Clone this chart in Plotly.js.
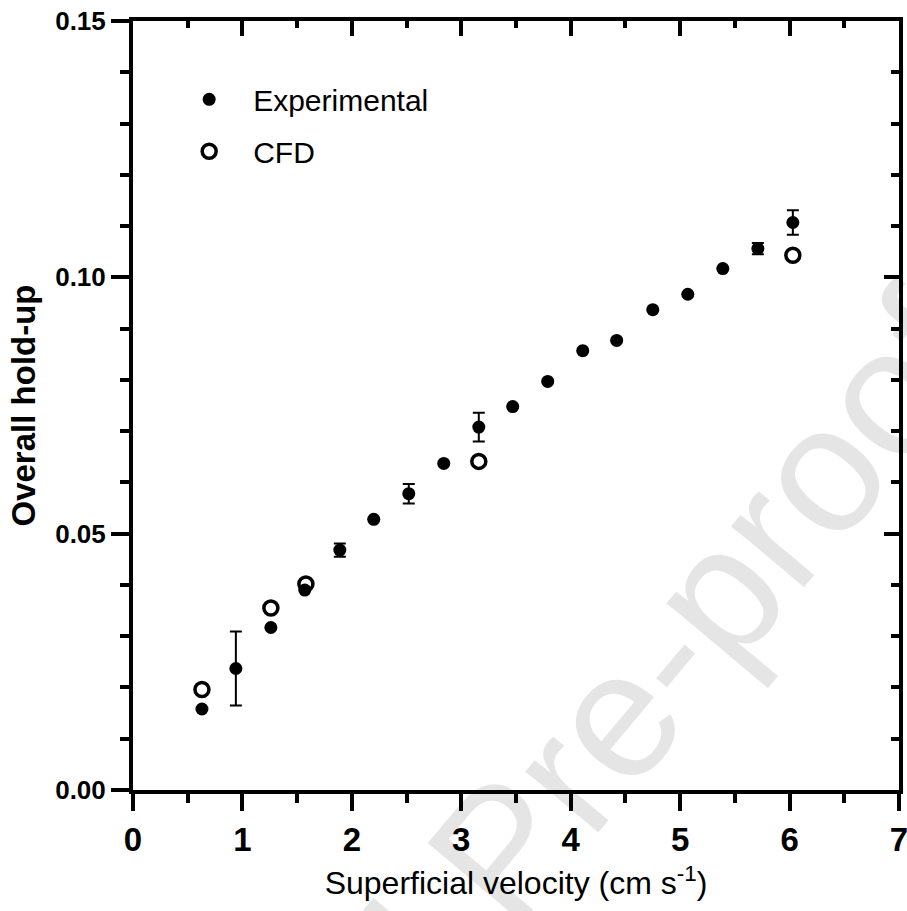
<!DOCTYPE html>
<html>
<head>
<meta charset="utf-8">
<script src="https://cdn.plot.ly/plotly-3.0.1.min.js"></script>
<style>
  html, body { margin: 0; padding: 0; background: #ffffff; }
  #chart { width: 907px; height: 911px; }
</style>
</head>
<body>
<div id="chart"></div>
<script>
// Superficial gas velocity (cm/s) for the measured runs
const velocityExp = [0.63, 0.94, 1.26, 1.57, 1.89, 2.20, 2.52, 2.84, 3.16, 3.47, 3.79, 4.11, 4.42, 4.75, 5.07, 5.39, 5.71, 6.03];
// Measured overall gas hold-up
const holdupExp = [0.0158, 0.0237, 0.0317, 0.0390, 0.0468, 0.0528, 0.0578, 0.0637, 0.0708, 0.0748, 0.0797, 0.0857, 0.0877, 0.0937, 0.0967, 0.1017, 0.1056, 0.1107];
// Standard deviation of the measured hold-up (null = no bar shown)
const holdupErr = [null, 0.0072, null, null, 0.0013, null, 0.0019, null, 0.0028, null, null, null, null, null, null, null, 0.0011, 0.0024];

// Simulated (CFD) runs
const velocityCfd = [0.63, 1.26, 1.58, 3.16, 6.03];
const holdupCfd = [0.0196, 0.0355, 0.0402, 0.0641, 0.1043];

// Axis ticks
const xTicks = [0, 1, 2, 3, 4, 5, 6, 7];
const yTicks = [0.00, 0.05, 0.10, 0.15];
const yTickText = ['0.00', '0.05', '0.10', '0.15'];

const FONT = 'Arial, "Liberation Sans", Helvetica, sans-serif';
const NARROW = '"Liberation Sans Narrow", "Arial Narrow", Arial, "Liberation Sans", sans-serif';

const traces = [
  {
    name: 'Experimental',
    type: 'scatter',
    mode: 'markers',
    x: velocityExp,
    y: holdupExp,
    xaxis: 'x',
    yaxis: 'y',
    legendgroup: 'exp',
    marker: { symbol: 'circle', size: 13, color: '#000000' },
    error_y: {
      type: 'data',
      array: holdupErr,
      visible: true,
      color: '#000000',
      thickness: 2,
      width: 6
    },
    cliponaxis: false
  },
  {
    name: 'CFD',
    type: 'scatter',
    mode: 'markers',
    x: velocityCfd,
    y: holdupCfd,
    xaxis: 'x2',
    yaxis: 'y2',
    legendgroup: 'cfd',
    marker: {
      symbol: 'circle-open',
      size: 14,
      color: '#000000',
      line: { width: 3.5, color: '#000000' }
    },
    cliponaxis: false
  }
];

const axisCommon = {
  showgrid: false,
  zeroline: false,
  showline: true,
  linecolor: '#000000',
  linewidth: 4,
  tickcolor: '#000000',
  tickwidth: 4
};

const layout = {
  width: 907,
  height: 911,
  margin: { l: 133, r: 8, t: 21, b: 121 },
  paper_bgcolor: '#ffffff',
  plot_bgcolor: 'rgba(0,0,0,0)',
  font: { family: FONT, color: '#000000' },
  showlegend: true,
  legend: {
    x: 0.042,
    y: 0.932,
    xanchor: 'left',
    yanchor: 'top',
    bgcolor: 'rgba(0,0,0,0)',
    borderwidth: 0,
    font: { family: FONT, size: 30, color: '#000000' },
    itemwidth: 78,
    tracegroupgap: 10,
    itemsizing: 'trace'
  },
  xaxis: Object.assign({}, axisCommon, {
    range: [0, 7],
    tickmode: 'array',
    tickvals: xTicks,
    ticktext: xTicks.map(String),
    ticks: 'outside',
    ticklen: 17,
    ticklabeloverflow: 'allow',
    tickfont: { family: NARROW, size: 33, weight: 'bold' },
    minor: { dtick: 0.5, tick0: 0, ticks: 'outside', ticklen: 9, tickwidth: 4, tickcolor: '#000000', showgrid: false },
    title: {
      text: 'Superficial velocity (cm s<sup>-1</sup>)',
      font: { family: FONT, size: 32 },
      standoff: 16
    }
  }),
  yaxis: Object.assign({}, axisCommon, {
    range: [0, 0.15],
    tickmode: 'array',
    tickvals: yTicks,
    ticktext: yTickText,
    ticks: 'outside',
    ticklen: 18,
    ticklabeloverflow: 'allow',
    tickfont: { family: FONT, size: 26, weight: 'bold' },
    minor: { dtick: 0.01, tick0: 0, ticks: 'outside', ticklen: 9, tickwidth: 4, tickcolor: '#000000', showgrid: false },
    title: {
      text: 'Overall hold-up',
      font: { family: FONT, size: 33, weight: 'bold' },
      standoff: 11
    }
  }),
  // Mirrored frame on top and right with inward ticks
  xaxis2: Object.assign({}, axisCommon, {
    overlaying: 'x',
    side: 'top',
    range: [0, 7],
    tickmode: 'array',
    tickvals: xTicks,
    ticks: 'inside',
    ticklen: 15,
    showticklabels: false,
    minor: { dtick: 0.5, tick0: 0, ticks: 'inside', ticklen: 7, tickwidth: 4, tickcolor: '#000000', showgrid: false }
  }),
  yaxis2: Object.assign({}, axisCommon, {
    overlaying: 'y',
    side: 'right',
    range: [0, 0.15],
    tickmode: 'array',
    tickvals: yTicks,
    ticks: 'inside',
    ticklen: 15,
    showticklabels: false,
    minor: { dtick: 0.01, tick0: 0, ticks: 'inside', ticklen: 8, tickwidth: 4, tickcolor: '#000000', showgrid: false }
  }),
  annotations: [
    {
      // Journal watermark, semi-transparent so it never hides the black ink
      text: 'Journal Pre-proof',
      xref: 'paper',
      yref: 'paper',
      x: 0.48,
      y: -0.08,
      xanchor: 'center',
      yanchor: 'middle',
      showarrow: false,
      textangle: -50,
      font: { family: FONT, size: 180, color: 'rgba(0,0,0,0.1)' }
    }
  ]
};

Plotly.newPlot('chart', traces, layout, { displayModeBar: false, staticPlot: true });
</script>
</body>
</html>
